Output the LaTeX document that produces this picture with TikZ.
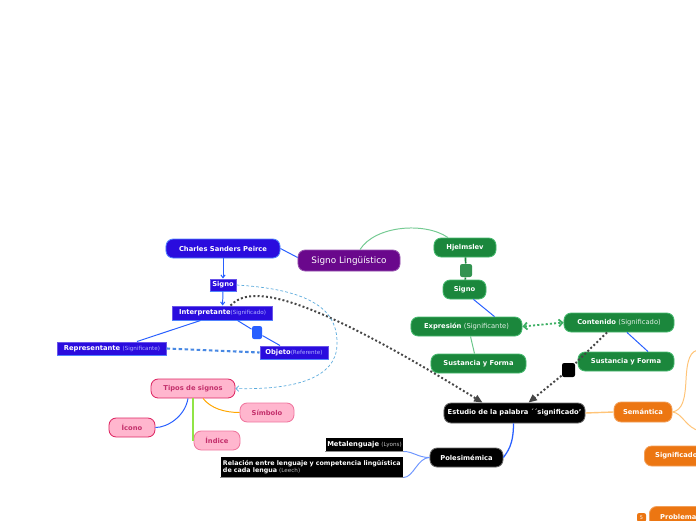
\documentclass[tikz,border=0pt]{standalone}
\usepackage{fontspec}
\setmainfont{DejaVu Sans}
\usepackage{tikz}
\usetikzlibrary{arrows.meta,calc}
\definecolor{peirceblue}{RGB}{42,12,222}
\definecolor{peirceline}{RGB}{80,130,255}
\definecolor{lavanda}{RGB}{175,175,255}
\definecolor{lingpurple}{RGB}{106,8,140}
\definecolor{hjgreen}{RGB}{27,135,60}
\definecolor{hjborder}{RGB}{70,185,110}
\definecolor{semorange}{RGB}{236,118,18}
\definecolor{paleorange}{RGB}{255,196,120}
\definecolor{tiposfill}{RGB}{255,182,206}
\definecolor{tiposdraw}{RGB}{222,40,100}
\definecolor{tipostext}{RGB}{196,48,108}
\definecolor{linkgray}{RGB}{70,70,70}
\definecolor{skyline}{RGB}{90,170,220}
\definecolor{linkblue}{RGB}{40,95,255}
\definecolor{paleblue}{RGB}{110,150,255}
\definecolor{limeline}{RGB}{145,228,70}
\newcommand{\parte}[2]{{\fontsize{4}{5}\selectfont\mdseries\color{#1}#2}}
\newcommand{\parteg}[1]{{\mdseries\color{white!88!hjgreen}#1}}

\begin{document}
\begin{tikzpicture}[x=0.025cm,y=-0.025cm,line width=0.7pt,
  every node/.style={font=\fontsize{4.8}{5.8}\selectfont\bfseries},
  pill/.style={rounded corners=0.18cm,minimum height=0.475cm,inner sep=1pt,line width=0.6pt,text=white},
  pillblue/.style={pill,draw=peirceline,fill=peirceblue},
  pillpurple/.style={pill,draw=lingpurple!70!white,fill=lingpurple,font=\fontsize{6.3}{7}\selectfont\mdseries},
  pillgreen/.style={pill,draw=hjborder,fill=hjgreen},
  pillorange/.style={pill,draw=semorange!70!white,fill=semorange},
  pillblack/.style={pill,draw=black!60,fill=black},
  pillpink/.style={pill,draw=tiposdraw,fill=tiposfill,text=tipostext},
  pillpinklight/.style={pill,draw=tiposdraw!45!tiposfill,fill=tiposfill,text=tipostext},
  boxblue/.style={fill=peirceblue,draw=peirceblue!70!white,text=white,inner sep=1pt},
  boxblack/.style={fill=black,text=white,inner sep=1pt},
  sqmark/.style={rounded corners=1.5pt,inner sep=0pt,minimum width=0.3cm,minimum height=0.325cm},
  darklink/.style={linkgray,line width=1.4pt,dash pattern=on 1.4pt off 1.6pt},
  skydash/.style={skyline,line width=0.5pt,dash pattern=on 2pt off 1.5pt},
  repdash/.style={skyline!80!blue,line width=1.5pt,dash pattern=on 2.5pt off 1.8pt}]

  \useasboundingbox (0,0) rectangle (696,520);
  \clip (0,0) rectangle (696,520);

  % Peirce
  \node[pillblue,minimum width=2.85cm] (peirce) at (223,248.5) {Charles Sanders Peirce};
  \node[boxblue,minimum width=0.65cm,minimum height=0.3cm] (psigno) at (223,285) {Signo};
  \node[boxblue,minimum width=2.475cm,minimum height=0.35cm] (interp) at (222.5,313) {Interpretante\parte{lavanda}{(Significado)}};
  \node[sqmark,fill=linkblue,minimum width=0.25cm] (intsq) at (257,332.5) {};
  \node[boxblue,minimum width=2.7cm,minimum height=0.325cm] (repre) at (112,348.5) {Representante \parte{lavanda}{(Significante)}};
  \node[boxblue,minimum width=1.7cm,minimum height=0.325cm] (objeto) at (294,352.5) {Objeto\parte{lavanda}{(Referente)}};
  \foreach \n in {psigno,interp,repre,objeto}
    \draw[peirceline,line width=1pt] (\n.south west) -- (\n.south east);

  % centro
  \node[pillpurple,minimum width=2.55cm,minimum height=0.525cm] (ling) at (349,260.5) {Signo Lingüístico};

  % Hjelmslev
  \node[pillgreen,minimum width=1.55cm] (hjelm) at (465,247.5) {Hjelmslev};
  \node[sqmark,fill=hjgreen!90!white] (hjsq) at (466,270.5) {};
  \node[pillgreen,minimum width=1.075cm] (hjsigno) at (464.5,289.5) {Signo};
  \node[pillgreen,minimum width=2.775cm] (expr) at (466.5,326.5) {Expresión \parteg{(Significante)}};
  \node[pillgreen,minimum width=2.75cm] (cont) at (619,322.5) {Contenido \parteg{(Significado)}};
  \node[pillgreen,minimum width=2.375cm] (sustA) at (478.5,363.5) {Sustancia y Forma};
  \node[pillgreen,minimum width=2.4cm] (sustB) at (626,361.5) {Sustancia y Forma};
  \node[sqmark,fill=black,minimum width=0.325cm,minimum height=0.35cm] (contsq) at (568.5,370) {};

  % estudio
  \node[pillblack,minimum width=3.525cm,minimum height=0.5cm] (estudio) at (514.5,413) {Estudio de la palabra ´´significado'};
  \node[pillorange,minimum width=1.45cm,minimum height=0.5cm] (sem) at (643,412) {Semántica};
  \node[pillorange,minimum height=0.5cm,anchor=west,inner xsep=0.27cm] (signif) at (644,456) {Significado l\phantom{éxico}};
  \node[pillorange,minimum height=0.5cm,anchor=west,inner xsep=0.27cm] (probl) at (649,516.5) {Problemas\phantom{ xxxx}};
  \node[sqmark,fill=semorange,minimum width=0.225cm,minimum height=0.225cm,font=\fontsize{3.5}{4}\selectfont,text=white] (probn) at (641.5,517.5) {5};
  \node[pillblack,minimum width=1.825cm] (poli) at (466.5,457.5) {Polesimémica};
  \node[boxblack,minimum width=1.925cm,minimum height=0.325cm] (meta) at (364.5,444.5) {Metalenguaje \parte{white!75!black}{(Lyons)}};
  \node[boxblack,text width=4.45cm,inner xsep=0.05cm,minimum height=0.5cm,align=left,font=\fontsize{4.5}{5.2}\selectfont\bfseries] (relac) at (312,467) {Relación entre lenguaje y competencia lingüística\\de cada lengua \parte{white!75!black}{(Leech)}};
  \foreach \n in {meta,relac}
    \draw[black!45,line width=1pt] (\n.south west) -- (\n.south east);

  % tipos de signos
  \node[pillpink,minimum width=2.1cm] (tipos) at (193,388.5) {Tipos de signos};
  \node[pillpink,minimum width=1.15cm] (icono) at (132,427.5) {Ícono};
  \node[pillpinklight,minimum width=1.15cm] (indice) at (217,440.5) {Índice};
  \node[pillpinklight,minimum width=1.35cm] (simbolo) at (267,412.5) {Símbolo};

  % conectores
  \draw[linkblue] (peirce.east) -- ($(ling.west)+(0,-3)$);
  \draw[hjborder!75!white] ($(ling.north)+(11,0)$) .. controls +(15,-24) and +(-23,-16) .. ($(hjelm.north)+(-17,0)$);
  \draw[hjgreen,line width=1.2pt] (hjelm) -- (hjsq) -- (hjsigno);
  \draw[linkblue] ($(hjsigno.south)+(9,0)$) -- ($(expr.north)+(28,0)$);
  \draw[hjborder!80!white] ($(expr.south)+(4,0)$) -- ($(sustA.north)-(4,0)$);
  \draw[linkblue] ($(cont.south)+(8,0)$) -- ($(sustB.north)+(22,0)$);
  \draw[hjborder!80!hjgreen,line width=1.3pt,dash pattern=on 1.5pt off 1.5pt,
    {Straight Barb[length=2.5pt,width=5pt]}-{Straight Barb[length=2.5pt,width=5pt]}] (expr.east) -- (cont.west);
  \draw[darklink] ($(cont.south)-(12,0)$) -- (contsq);
  \draw[darklink,-{Triangle[length=6pt,width=5pt]}] (contsq) -- ($(estudio.north)+(14,0)$);
  \draw[darklink,-{Triangle[length=6pt,width=5pt]}] ($(interp.north)+(8,0)$) .. controls (250,285) and (300,290) .. ($(estudio.north)-(32,0)$);

  \draw[linkblue,-{Straight Barb[length=2pt,width=3pt]}] (peirce) -- (psigno);
  \draw[linkblue,-{Straight Barb[length=2pt,width=3pt]}] (psigno) -- (interp);
  \draw[linkblue] ($(interp.south)+(-22,0)$) -- ($(repre.north)+(25,0)$);
  \draw[linkblue] ($(interp.south)+(15,0)$) -- (intsq) -- ($(objeto.north)-(14,0)$);
  \draw[repdash] (repre.east) -- (objeto.west);
  \draw[skydash,-{Straight Barb[length=2pt,width=4pt]}] (psigno.east) .. controls (320,290) and (338,315) .. (337,345)
    .. controls (336,380) and (290,390) .. (tipos.east);

  \draw[linkblue] ($(tipos.south)-(5,0)$) .. controls +(-3,18) and +(12,0) .. (icono.east);
  \draw[limeline,line width=0.9pt] (tipos.south) -- (tipos.south |- indice.west);
  \draw[orange!70!yellow] ($(tipos.south)+(10,0)$) .. controls +(8,10) and +(-15,0) .. (simbolo.west);

  \draw[paleorange,line width=1pt] (estudio.east) -- (sem.west);
  \coordinate (semup) at (700,350);
  \coordinate (semdown) at (700,431);
  \draw[paleorange] (sem.east) .. controls +(10,-2) and +(-1,20) .. (686,380) .. controls +(1,-20) and +(-10,0) .. (semup);
  \draw[paleorange] (sem.east) .. controls +(10,1) and +(-14,-3) .. (semdown);
  \draw[linkblue,line width=0.9pt] ($(estudio.south)-(1,0)$) .. controls +(0,22) and +(4,-6) .. (poli.east);
  \draw[paleblue] (poli.west) .. controls +(-12,0) and +(10,0) .. (meta.south east);
  \draw[paleblue] (poli.west) .. controls +(-12,0) and +(10,0) .. (relac.south east);
\end{tikzpicture}
\end{document}
